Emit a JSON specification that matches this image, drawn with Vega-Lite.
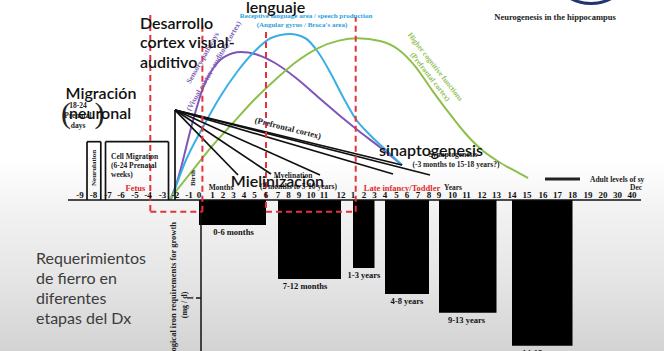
{
  "$schema": "https://vega.github.io/schema/vega-lite/v6.json",
  "width": 664,
  "height": 351,
  "autosize": {"type": "none"},
  "padding": 0,
  "background": "#ffffff",
  "config": {
    "view": {
      "stroke": null,
      "fill": {"gradient": "linear", "x1": 0, "y1": 0, "x2": 0, "y2": 1,
        "stops": [
          {"offset": 0, "color": "#ffffff"},
          {"offset": 0.46, "color": "#ffffff"},
          {"offset": 0.6, "color": "#f2f2f2"},
          {"offset": 0.8, "color": "#e5e5e5"},
          {"offset": 1, "color": "#d3d3d3"}
        ]}
    }
  },
  "resolve": {"scale": {"y": "independent"}},
  "layer": [
    {
      "layer": [
        {
          "data": {"values": [
            {"label": "0-6 months", "start": 0, "end": 6, "mid": 3, "iron": 0.255},
            {"label": "7-12 months", "start": 7, "end": 12, "mid": 9.5, "iron": 0.806},
            {"label": "1-3 years", "start": 13, "end": 15, "mid": 14, "iron": 0.694},
            {"label": "4-8 years", "start": 16, "end": 20, "mid": 18, "iron": 0.959},
            {"label": "9-13 years", "start": 21, "end": 25, "mid": 23, "iron": 1.15},
            {"label": "14-18 years", "start": 26, "end": 30, "mid": 28, "iron": 1.487}
          ]},
          "layer": [
            {
              "mark": {"type": "rect", "color": "#000000"},
              "encoding": {
                "x": {"field": "start", "type": "quantitative", "axis": null, "scale": {"domain": [-9,-8,-7,-6,-5,-4,-3,-2,-1,0,1,2,3,4,5,6,7,8,9,10,11,12,13,14,15,16,17,18,19,20,21,22,23,24,25,26,27,28,29,30,31,32,33,34], "range": [80,93.5,108,121,135,148,162.5,175.5,189,199,212.5,223,233.5,244,254.5,266,278,288.5,299,311,324,341,353,364,374.5,385,396.5,407,418,429,439,452.5,466.5,482,496.5,512,527,543,557.5,572.5,588,603,617.5,632], "nice": false, "zero": false}},
                "x2": {"field": "end"},
                "y": {"field": "iron", "type": "quantitative", "axis": null, "scale": {"domain": [-2.0408, 1.5408], "reverse": true, "nice": false, "zero": false}},
                "y2": {"datum": 0}
              }
            },
            {
              "mark": {"type": "text", "font": "Liberation Serif", "fontWeight": "bold", "fontSize": 8.5, "baseline": "top", "dy": 3, "color": "#111111"},
              "encoding": {
                "x": {"field": "mid", "type": "quantitative", "axis": null, "scale": {"domain": [-9,-8,-7,-6,-5,-4,-3,-2,-1,0,1,2,3,4,5,6,7,8,9,10,11,12,13,14,15,16,17,18,19,20,21,22,23,24,25,26,27,28,29,30,31,32,33,34], "range": [80,93.5,108,121,135,148,162.5,175.5,189,199,212.5,223,233.5,244,254.5,266,278,288.5,299,311,324,341,353,364,374.5,385,396.5,407,418,429,439,452.5,466.5,482,496.5,512,527,543,557.5,572.5,588,603,617.5,632], "nice": false, "zero": false}},
                "y": {"field": "iron", "type": "quantitative", "axis": null, "scale": {"domain": [-2.0408, 1.5408], "reverse": true, "nice": false, "zero": false}},
                "text": {"field": "label"}
              }
            }
          ]
        },
        {
          "data": {"values": [
            {"t": 0.148, "iron": 0, "t2": 0.148, "iron2": 1.6},
            {"t": -0.3, "iron": 1, "t2": 0.148, "iron2": 1}
          ]},
          "mark": {"type": "rule", "color": "#111111", "strokeWidth": 1.5},
          "encoding": {
            "x": {"field": "t", "type": "quantitative", "axis": null, "scale": {"domain": [-9,-8,-7,-6,-5,-4,-3,-2,-1,0,1,2,3,4,5,6,7,8,9,10,11,12,13,14,15,16,17,18,19,20,21,22,23,24,25,26,27,28,29,30,31,32,33,34], "range": [80,93.5,108,121,135,148,162.5,175.5,189,199,212.5,223,233.5,244,254.5,266,278,288.5,299,311,324,341,353,364,374.5,385,396.5,407,418,429,439,452.5,466.5,482,496.5,512,527,543,557.5,572.5,588,603,617.5,632], "nice": false, "zero": false}},
            "x2": {"field": "t2"},
            "y": {"field": "iron", "type": "quantitative", "axis": null, "scale": {"domain": [-2.0408, 1.5408], "reverse": true, "nice": false, "zero": false}},
            "y2": {"field": "iron2"}
          }
        },
        {
          "data": {"values": [
            {"text": "1", "t": -0.85, "iron": 1},
            {"text": "(mg / d)", "t": -1.333, "iron": 1.071}
          ]},
          "mark": {"type": "text", "font": "Liberation Serif", "fontWeight": "bold", "fontSize": 8, "angle": 270, "align": "center", "baseline": "middle", "color": "#222222"},
          "encoding": {
            "x": {"field": "t", "type": "quantitative", "axis": null, "scale": {"domain": [-9,-8,-7,-6,-5,-4,-3,-2,-1,0,1,2,3,4,5,6,7,8,9,10,11,12,13,14,15,16,17,18,19,20,21,22,23,24,25,26,27,28,29,30,31,32,33,34], "range": [80,93.5,108,121,135,148,162.5,175.5,189,199,212.5,223,233.5,244,254.5,266,278,288.5,299,311,324,341,353,364,374.5,385,396.5,407,418,429,439,452.5,466.5,482,496.5,512,527,543,557.5,572.5,588,603,617.5,632], "nice": false, "zero": false}},
            "y": {"field": "iron", "type": "quantitative", "axis": null, "scale": {"domain": [-2.0408, 1.5408], "reverse": true, "nice": false, "zero": false}},
            "text": {"field": "text"}
          }
        },
        {
          "data": {"values": [
            {"text": "Physiological iron requirements for growth", "t": -2.169, "iron": 0.224}
          ]},
          "mark": {"type": "text", "font": "Liberation Serif", "fontWeight": "bold", "fontSize": 8.5, "angle": 270, "align": "right", "baseline": "middle", "color": "#222222"},
          "encoding": {
            "x": {"field": "t", "type": "quantitative", "axis": null, "scale": {"domain": [-9,-8,-7,-6,-5,-4,-3,-2,-1,0,1,2,3,4,5,6,7,8,9,10,11,12,13,14,15,16,17,18,19,20,21,22,23,24,25,26,27,28,29,30,31,32,33,34], "range": [80,93.5,108,121,135,148,162.5,175.5,189,199,212.5,223,233.5,244,254.5,266,278,288.5,299,311,324,341,353,364,374.5,385,396.5,407,418,429,439,452.5,466.5,482,496.5,512,527,543,557.5,572.5,588,603,617.5,632], "nice": false, "zero": false}},
            "y": {"field": "iron", "type": "quantitative", "axis": null, "scale": {"domain": [-2.0408, 1.5408], "reverse": true, "nice": false, "zero": false}},
            "text": {"field": "text"}
          }
        }
      ]
    },
    {
      "encoding": {
        "x": {"field": "t", "type": "quantitative", "axis": null, "scale": {"domain": [-9,-8,-7,-6,-5,-4,-3,-2,-1,0,1,2,3,4,5,6,7,8,9,10,11,12,13,14,15,16,17,18,19,20,21,22,23,24,25,26,27,28,29,30,31,32,33,34], "range": [80,93.5,108,121,135,148,162.5,175.5,189,199,212.5,223,233.5,244,254.5,266,278,288.5,299,311,324,341,353,364,374.5,385,396.5,407,418,429,439,452.5,466.5,482,496.5,512,527,543,557.5,572.5,588,603,617.5,632], "nice": false, "zero": false}},
        "y": {"field": "v", "type": "quantitative", "axis": null, "scale": {"domain": [-1.5408, 2.0408], "nice": false, "zero": false}}
      },
      "layer": [
        {
          "data": {"values": [
            {"series": "Sensory", "t": -2.42, "v": 0}, {"series": "Sensory", "t": -1.963, "v": 0.153}, {"series": "Sensory", "t": -1.593, "v": 0.327}, {"series": "Sensory", "t": -1.222, "v": 0.531}, {"series": "Sensory", "t": -0.8, "v": 0.735}, {"series": "Sensory", "t": -0.3, "v": 0.918}, {"series": "Sensory", "t": 0.296, "v": 1.143}, {"series": "Sensory", "t": 0.963, "v": 1.327}, {"series": "Sensory", "t": 2.095, "v": 1.459}, {"series": "Sensory", "t": 3.714, "v": 1.51}, {"series": "Sensory", "t": 5.304, "v": 1.48}, {"series": "Sensory", "t": 6.75, "v": 1.398}, {"series": "Sensory", "t": 8.714, "v": 1.245}, {"series": "Sensory", "t": 10.538, "v": 1.051}, {"series": "Sensory", "t": 11.882, "v": 0.867}, {"series": "Sensory", "t": 13.636, "v": 0.694}, {"series": "Sensory", "t": 15.619, "v": 0.531}, {"series": "Sensory", "t": 17.524, "v": 0.357},
            {"series": "Language", "t": -2.346, "v": 0}, {"series": "Language", "t": -1.222, "v": 0.408}, {"series": "Language", "t": 0.296, "v": 0.745}, {"series": "Language", "t": 1.714, "v": 1.051}, {"series": "Language", "t": 3.333, "v": 1.306}, {"series": "Language", "t": 4.952, "v": 1.51}, {"series": "Language", "t": 6.417, "v": 1.653}, {"series": "Language", "t": 8.143, "v": 1.694}, {"series": "Language", "t": 9.5, "v": 1.653}, {"series": "Language", "t": 10.538, "v": 1.51}, {"series": "Language", "t": 11.353, "v": 1.306}, {"series": "Language", "t": 12.167, "v": 1.051}, {"series": "Language", "t": 13.182, "v": 0.837}, {"series": "Language", "t": 14.571, "v": 0.663}, {"series": "Language", "t": 16.087, "v": 0.51}, {"series": "Language", "t": 17.524, "v": 0.357},
            {"series": "Cognitive", "t": -2.5, "v": 0}, {"series": "Cognitive", "t": -0.84, "v": 0.276}, {"series": "Cognitive", "t": 0.941, "v": 0.544}, {"series": "Cognitive", "t": 2.952, "v": 0.786}, {"series": "Cognitive", "t": 4.952, "v": 1.02}, {"series": "Cognitive", "t": 6.75, "v": 1.224}, {"series": "Cognitive", "t": 8.714, "v": 1.408}, {"series": "Cognitive", "t": 10.508, "v": 1.548}, {"series": "Cognitive", "t": 11.871, "v": 1.626}, {"series": "Cognitive", "t": 13.436, "v": 1.65}, {"series": "Cognitive", "t": 15.524, "v": 1.622}, {"series": "Cognitive", "t": 17.238, "v": 1.531}, {"series": "Cognitive", "t": 18.727, "v": 1.367}, {"series": "Cognitive", "t": 20.3, "v": 1.122}, {"series": "Cognitive", "t": 21.741, "v": 0.888}, {"series": "Cognitive", "t": 22.893, "v": 0.684}, {"series": "Cognitive", "t": 24, "v": 0.51}, {"series": "Cognitive", "t": 25.161, "v": 0.388}, {"series": "Cognitive", "t": 26.2, "v": 0.296}, {"series": "Cognitive", "t": 27.063, "v": 0.224}
          ]},
          "mark": {"type": "line", "interpolate": "monotone", "strokeWidth": 2},
          "encoding": {
            "color": {"field": "series", "type": "nominal", "legend": null, "scale": {"domain": ["Sensory", "Language", "Cognitive"], "range": ["#7d55b8", "#3aaee6", "#8dbf4a"]}}
          }
        },
        {
          "data": {"values": [
            {"t": -9.889, "v": 0, "t2": 34.621, "v2": 0},
            {"t": -2.038, "v": 0.918, "t2": -2.038, "v2": 0},
            {"t": -2.038, "v": 0.918, "t2": 3.429, "v2": 0.255},
            {"t": -2.038, "v": 0.918, "t2": 6.417, "v2": 0.265},
            {"t": -2.038, "v": 0.918, "t2": 10.692, "v2": 0.255},
            {"t": -2.038, "v": 0.918, "t2": 16.696, "v2": 0.265},
            {"t": -2.038, "v": 0.918, "t2": 20.1, "v2": 0.255},
            {"t": -2.038, "v": 0.918, "t2": 17.524, "v2": 0.357},
            {"t": -8.481, "v": 0, "t2": -8.481, "v2": 0.595},
            {"t": -8.481, "v": 0.595, "t2": -7.497, "v2": 0.595},
            {"t": -7.497, "v": 0.595, "t2": -7.497, "v2": 0},
            {"t": -7.172, "v": 0, "t2": -7.172, "v2": 0.595},
            {"t": -7.172, "v": 0.595, "t2": -2.538, "v2": 0.595},
            {"t": -2.538, "v": 0.595, "t2": -2.538, "v2": 0}
          ]},
          "mark": {"type": "rule", "color": "#111111", "strokeWidth": 1.7},
          "encoding": {"x2": {"field": "t2"}, "y2": {"field": "v2"}}
        },
        {
          "data": {"values": [
            {"t": 28.138, "v": 0.214, "t2": 30.484, "v2": 0.214}
          ]},
          "mark": {"type": "rule", "color": "#222222", "strokeWidth": 3},
          "encoding": {"x2": {"field": "t2"}, "y2": {"field": "v2"}}
        },
        {
          "data": {"values": [
            {"t": -3.841, "v": 1.888, "t2": -3.841, "v2": -0.119},
            {"t": -3.841, "v": -0.119, "t2": 0.252, "v2": -0.119},
            {"t": 0.252, "v": -0.119, "t2": 0.252, "v2": 1.786},
            {"t": 6, "v": 1.714, "t2": 6, "v2": -0.119},
            {"t": 6, "v": -0.119, "t2": 13.245, "v2": -0.119},
            {"t": 13.245, "v": -0.119, "t2": 13.245, "v2": 1.867}
          ]},
          "mark": {"type": "rule", "color": "#e5323b", "strokeWidth": 2, "strokeDash": [6, 4]},
          "encoding": {"x2": {"field": "t2"}, "y2": {"field": "v2"}}
        },
        {
          "data": {"values": [
            {"t": 31.2, "v": 2.444}
          ]},
          "mark": {"type": "point", "shape": "circle", "filled": false, "size": 7396, "stroke": "#1f3570", "strokeWidth": 3, "opacity": 1}
        },
        {
          "data": {"values": [
            {"label": "-9", "t": -9, "v": 0.02}, {"label": "-8", "t": -8, "v": 0.02}, {"label": "-7", "t": -7, "v": 0.02}, {"label": "-6", "t": -6, "v": 0.02}, {"label": "-5", "t": -5, "v": 0.02}, {"label": "-4", "t": -4, "v": 0.02}, {"label": "-3", "t": -3, "v": 0.02}, {"label": "-2", "t": -2, "v": 0.02}, {"label": "-1", "t": -1, "v": 0.02}, {"label": "0", "t": 0, "v": 0.02},
            {"label": "1", "t": 1, "v": 0.02}, {"label": "2", "t": 2, "v": 0.02}, {"label": "3", "t": 3, "v": 0.02}, {"label": "4", "t": 4, "v": 0.02}, {"label": "5", "t": 5, "v": 0.02}, {"label": "6", "t": 6, "v": 0.02}, {"label": "7", "t": 7, "v": 0.02}, {"label": "8", "t": 8, "v": 0.02}, {"label": "9", "t": 9, "v": 0.02}, {"label": "10", "t": 10, "v": 0.02}, {"label": "11", "t": 11, "v": 0.02}, {"label": "12", "t": 12, "v": 0.02},
            {"label": "1", "t": 13, "v": 0.02}, {"label": "2", "t": 14, "v": 0.02}, {"label": "3", "t": 15, "v": 0.02}, {"label": "4", "t": 16, "v": 0.02}, {"label": "5", "t": 17, "v": 0.02}, {"label": "6", "t": 18, "v": 0.02}, {"label": "7", "t": 19, "v": 0.02}, {"label": "8", "t": 20, "v": 0.02}, {"label": "9", "t": 21, "v": 0.02}, {"label": "10", "t": 22, "v": 0.02}, {"label": "11", "t": 23, "v": 0.02}, {"label": "12", "t": 24, "v": 0.02}, {"label": "13", "t": 25, "v": 0.02}, {"label": "14", "t": 26, "v": 0.02}, {"label": "15", "t": 27, "v": 0.02}, {"label": "16", "t": 28, "v": 0.02}, {"label": "17", "t": 29, "v": 0.02}, {"label": "18", "t": 30, "v": 0.02}, {"label": "19", "t": 31, "v": 0.02}, {"label": "20", "t": 32, "v": 0.02}, {"label": "30", "t": 33, "v": 0.02}, {"label": "40", "t": 34, "v": 0.02}
          ]},
          "mark": {"type": "text", "font": "Liberation Serif", "fontWeight": "bold", "fontSize": 9, "align": "center", "baseline": "alphabetic", "color": "#111111"},
          "encoding": {"text": {"field": "label"}}
        },
        {
          "data": {"values": [
            {"text": "Fetus", "t": -4.962, "v": 0.092},
            {"text": "Late infancy/Toddler", "t": 17.524, "v": 0.092}
          ]},
          "mark": {"type": "text", "font": "Liberation Serif", "fontWeight": "bold", "fontSize": 8.5, "align": "center", "baseline": "alphabetic", "color": "#e02a2a"},
          "encoding": {"text": {"field": "text"}}
        },
        {
          "data": {"values": [
            {"text": "Cell Migration", "t": -6.769, "v": 0.418},
            {"text": "(6-24 Prenatal", "t": -6.769, "v": 0.327},
            {"text": "weeks)", "t": -6.769, "v": 0.235},
            {"text": "Adult levels of sy", "t": 31.133, "v": 0.184}
          ]},
          "mark": {"type": "text", "font": "Liberation Serif", "fontWeight": "bold", "fontSize": 7.5, "align": "left", "baseline": "alphabetic", "color": "#222222"},
          "encoding": {"text": {"field": "text"}}
        },
        {
          "data": {"values": [
            {"text": "Months", "t": 1.81, "v": 0.102},
            {"text": "Years", "t": 22.036, "v": 0.102},
            {"text": "Dec", "t": 34.276, "v": 0.102},
            {"text": "Myelination", "t": 8.429, "v": 0.224},
            {"text": "Synaptogenesis", "t": 22.036, "v": 0.439},
            {"text": "(-3 months to 15-18 years?)", "t": 22.25, "v": 0.337},
            {"text": "18-24", "t": -9.148, "v": 0.939},
            {"text": "Prenatal", "t": -9.148, "v": 0.837},
            {"text": "days", "t": -9.148, "v": 0.735}
          ]},
          "mark": {"type": "text", "font": "Liberation Serif", "fontWeight": "bold", "fontSize": 7.5, "align": "center", "baseline": "alphabetic", "color": "#222222"},
          "encoding": {"text": {"field": "text"}}
        },
        {
          "data": {"values": [
            {"text": "(2 months to 5-10 years)", "t": 11.765, "v": 0.112}
          ]},
          "mark": {"type": "text", "font": "Liberation Serif", "fontWeight": "bold", "fontSize": 7.5, "align": "right", "baseline": "alphabetic", "color": "#222222"},
          "encoding": {"text": {"field": "text"}}
        },
        {
          "data": {"values": [
            {"text": "Birth", "t": -0.63, "v": 0.224},
            {"text": "Neurulation", "t": -7.986, "v": 0.327}
          ]},
          "mark": {"type": "text", "font": "Liberation Serif", "fontWeight": "bold", "fontSize": 7, "angle": 270, "align": "center", "baseline": "middle", "color": "#222222"},
          "encoding": {"text": {"field": "text"}}
        },
        {
          "data": {"values": [
            {"text": "(Prefrontal cortex)", "t": 7.952, "v": 0.735}
          ]},
          "mark": {"type": "text", "font": "Liberation Serif", "fontWeight": "bold", "fontSize": 8.5, "angle": 14, "align": "center", "baseline": "middle", "color": "#222222"},
          "encoding": {"text": {"field": "text"}}
        },
        {
          "data": {"values": [
            {"text": "Sensory pathways", "t": 0.296, "v": 1.449},
            {"text": "(Visual cortex / auditory cortex)", "t": 1.143, "v": 1.367}
          ]},
          "mark": {"type": "text", "font": "Liberation Serif", "fontWeight": "bold", "fontSize": 7.5, "angle": 300, "align": "center", "baseline": "middle", "color": "#7d5cb8"},
          "encoding": {"text": {"field": "text"}}
        },
        {
          "data": {"values": [
            {"text": "Higher cognitive functions", "t": 20.6, "v": 1.357},
            {"text": "(Prefrontal cortex)", "t": 20.1, "v": 1.255}
          ]},
          "mark": {"type": "text", "font": "Liberation Serif", "fontWeight": "bold", "fontSize": 7.5, "angle": 52, "align": "center", "baseline": "middle", "color": "#93c257"},
          "encoding": {"text": {"field": "text"}}
        },
        {
          "data": {"values": [
            {"text": "Receptive language area / speech production", "t": 9.583, "v": 1.881},
            {"text": "(Angular gyrus / Broca's area)", "t": 9.25, "v": 1.786}
          ]},
          "mark": {"type": "text", "font": "Liberation Serif", "fontWeight": "bold", "fontSize": 7, "align": "center", "baseline": "middle", "color": "#2a9fdf"},
          "encoding": {"text": {"field": "text"}}
        },
        {
          "data": {"values": [
            {"text": "Neurogenesis in the hippocampus", "t": 28.828, "v": 1.87}
          ]},
          "mark": {"type": "text", "font": "Liberation Serif", "fontWeight": "bold", "fontSize": 8.5, "align": "center", "baseline": "middle", "color": "#222222"},
          "encoding": {"text": {"field": "text"}}
        },
        {
          "data": {"values": [
            {"text": "(", "t": -10.037, "v": 0.878},
            {"text": ")", "t": -7.586, "v": 0.878}
          ]},
          "mark": {"type": "text", "font": "Liberation Serif", "fontSize": 30, "align": "center", "baseline": "middle", "color": "#222222"},
          "encoding": {"text": {"field": "text"}}
        },
        {
          "data": {"values": [
            {"text": "lenguaje", "t": 4.19, "v": 1.908},
            {"text": "Desarrollo", "t": -4.615, "v": 1.745},
            {"text": "cortex visual-", "t": -4.615, "v": 1.551},
            {"text": "auditivo", "t": -4.615, "v": 1.352},
            {"text": "Migración", "t": -10.067, "v": 1.031},
            {"text": "neuronal", "t": -9.815, "v": 0.827},
            {"text": "Mielinizacion", "t": 2.743, "v": 0.133},
            {"text": "sinaptogenesis", "t": 15.429, "v": 0.449}
          ]},
          "mark": {"type": "text", "font": "Lato", "fontSize": 16, "fontWeight": 600, "align": "left", "baseline": "alphabetic", "color": "#111111"},
          "encoding": {"text": {"field": "text"}}
        },
        {
          "data": {"values": [
            {"text": "Requerimientos", "t": -12.259, "v": -0.653},
            {"text": "de fierro en", "t": -12.259, "v": -0.857},
            {"text": "diferentes", "t": -12.259, "v": -1.061},
            {"text": "etapas del Dx", "t": -12.259, "v": -1.265}
          ]},
          "mark": {"type": "text", "font": "Lato", "fontSize": 16, "align": "left", "baseline": "alphabetic", "color": "#3c3c3c"},
          "encoding": {"text": {"field": "text"}}
        }
      ]
    }
  ]
}
